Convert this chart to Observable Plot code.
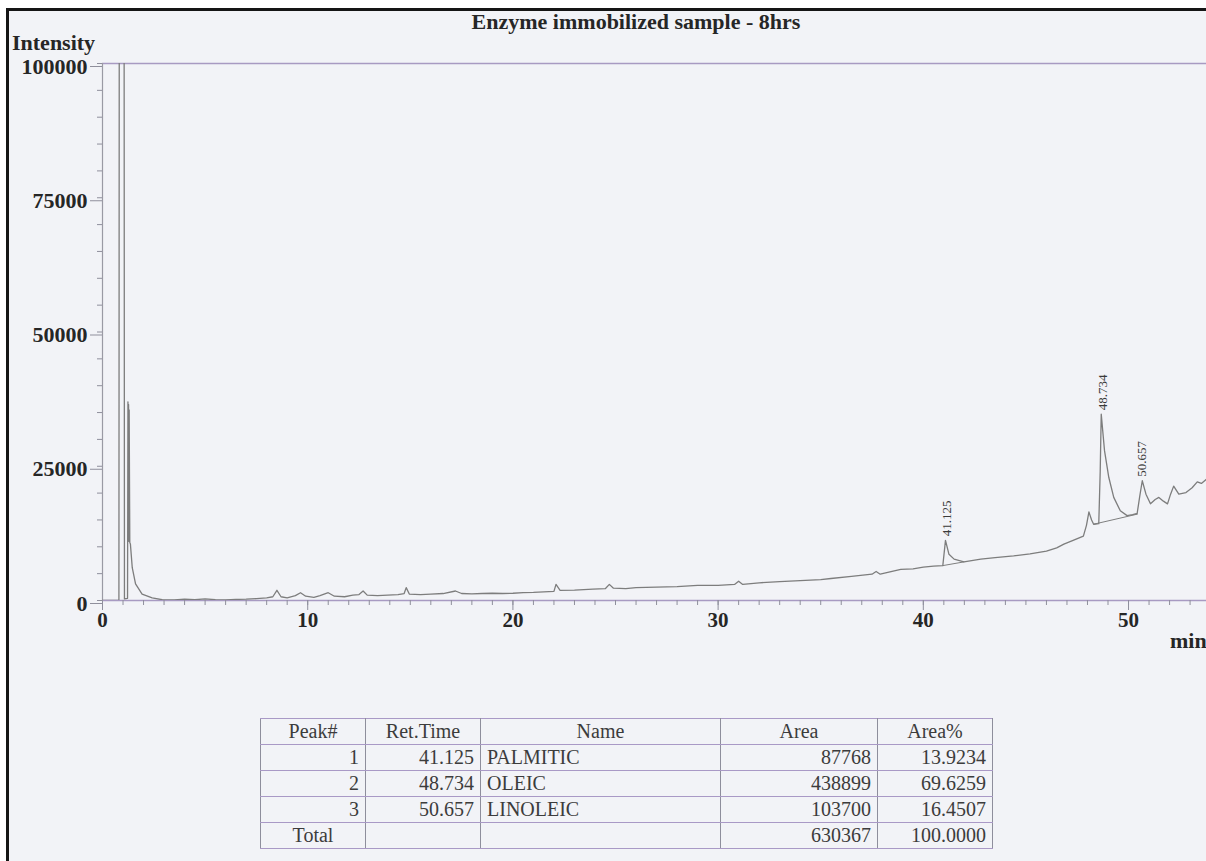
<!DOCTYPE html>
<html>
<head>
<meta charset="utf-8">
<script src="https://cdn.jsdelivr.net/npm/d3@7"></script>
<script src="https://cdn.jsdelivr.net/npm/@observablehq/plot@0.6"></script>
<style>
  html, body { margin: 0; padding: 0; }
  body { width: 1206px; height: 861px; position: relative; overflow: hidden; background: #ffffff; font-family: "Liberation Serif", "DejaVu Serif", serif; }
  #paper { position: absolute; left: 6px; top: 8px; right: -5px; bottom: -5px; border-left: 3px solid #151515; border-top: 3px solid #151515; background: #f2f3f7; }
  #chart { position: absolute; left: 0; top: 0; }
  .lbl { position: absolute; font-weight: bold; color: #262626; white-space: nowrap; }
  #title { left: 336px; width: 600px; top: 9px; text-align: center; font-size: 22px; }
  #ylab { left: 12px; top: 30px; font-size: 22px; }
  #xlab { left: 1170px; top: 628px; font-size: 22px; }
  table { position: absolute; left: 260px; top: 718px; border-collapse: collapse; font-family: "Liberation Serif", serif; font-size: 20px; color: #3c3c3c; }
  td { height: 25px; padding: 0 6px; line-height: 25px; border-left: 1px solid #8e8e9c; border-right: 1px solid #8e8e9c; border-top: 1px solid #a999c6; border-bottom: 1px solid #a999c6; }
  td.r { text-align: right; }
  td.c { text-align: center; }
  td.l { text-align: left; }
</style>
</head>
<body>
<div id="paper"></div>
<div id="chart"></div>
<div id="title" class="lbl">Enzyme immobilized sample - 8hrs</div>
<div id="ylab" class="lbl">Intensity</div>
<div id="xlab" class="lbl">min</div>
<table id="tbl"></table>
<script>
// ---- data ----
const traceTime = [
  0.0, 0.5, 0.80, 0.82, 1.05, 1.07, 1.22, 1.24, 1.26, 1.27, 1.29, 1.30, 1.33, 1.36, 1.45, 1.61, 1.93, 2.42, 2.91,
  3.5, 4.0, 4.5, 5.0, 5.5, 6.0, 6.5, 7.0, 7.5, 8.0, 8.3, 8.5, 8.7, 9.0, 9.4, 9.65, 9.9, 10.3, 10.6, 11.0, 11.3,
  11.8, 12.2, 12.5, 12.7, 12.9, 13.4, 13.9, 14.4, 14.7, 14.8, 14.95, 15.5, 16.0, 16.6, 17.2, 17.5, 18.0, 18.5,
  19.0, 19.5, 20.0, 20.5, 21.0, 21.5, 22.0, 22.1, 22.3, 23.0, 23.9, 24.5, 24.7, 24.9, 25.5, 26.0, 27.0, 28.0,
  29.0, 30.0, 30.8, 31.0, 31.2, 32.0, 33.0, 34.0, 35.0, 35.5, 36.5, 37.5, 37.7, 37.9, 38.9, 39.5, 40.0, 40.5,
  40.95, 41.08, 41.25, 41.5, 41.98, 42.8, 43.5, 44.4, 45.2, 46.0, 46.5, 46.85, 47.3, 47.8, 47.95, 48.07, 48.2,
  48.3, 48.55, 48.62, 48.67, 48.83, 49.04, 49.28, 49.6, 49.93, 50.2, 50.42, 50.55, 50.67, 50.85, 51.07, 51.3,
  51.48, 51.7, 51.9, 52.05, 52.2, 52.45, 52.8, 53.1, 53.35, 53.55, 53.8
];
const traceIntensity = [
  0, 0, 0, 130000, 130000, 300, 400, 37000, 11500, 36500, 11000, 35500, 10800, 10500, 6100, 3100, 1200, 470, 150,
  100, 250, 150, 300, 150, 100, 200, 250, 350, 500, 700, 1900, 700, 500, 900, 1450, 800, 600, 900, 1450, 800,
  700, 1000, 1100, 1770, 1000, 900, 1000, 1100, 1300, 2400, 1200, 1100, 1200, 1300, 1770, 1300, 1250, 1300,
  1350, 1300, 1350, 1450, 1500, 1600, 1700, 3000, 1900, 1950, 2100, 2200, 3000, 2300, 2200, 2400, 2500, 2600,
  2800, 2800, 3000, 3600, 3000, 3300, 3500, 3700, 3900, 4100, 4500, 4900, 5400, 4900, 5800, 5900, 6200, 6400,
  6500, 11200, 8600, 7700, 7200, 7700, 8000, 8300, 8700, 9200, 9800, 10500, 11200, 12000, 14000, 16500, 15000,
  14200, 14300, 24000, 34700, 27900, 22900, 19200, 16700, 15800, 16000, 16200, 19500, 22300, 19800, 18000, 18800,
  19200, 18500, 18000, 19800, 21300, 19800, 20100, 21000, 22100, 21800, 22600
];

// integration baselines drawn under the peaks
const baseX1 = [40.95, 48.3];
const baseY1 = [6500, 14200];
const baseX2 = [42.0, 50.45];
const baseY2 = [7200, 16100];

// peak annotations
const peakTimes = [41.125, 48.734, 50.657];
const peakHeights = [11200, 34700, 22300];

// axis ticks
const xTicks = [0, 10, 20, 30, 40, 50];
const yTicks = [0, 25000, 50000, 75000, 100000];
const xMinorTicks = d3.range(0, 54, 1);
const yMinorTicks = d3.range(0, 100001, 5000);

// results table
const tableHeader = ["Peak#", "Ret.Time", "Name", "Area", "Area%"];
const peakNo = ["1", "2", "3"];
const retTime = ["41.125", "48.734", "50.657"];
const compoundNames = ["PALMITIC", "OLEIC", "LINOLEIC"];
const areas = ["87768", "438899", "103700"];
const areaPct = ["13.9234", "69.6259", "16.4507"];
const totalArea = "630367";
const totalPct = "100.0000";

// ---- build ----
const trace = traceTime.map((t, i) => ({t, v: traceIntensity[i]}));
const bases = baseX1.map((x, i) => ({x1: x, y1: baseY1[i], x2: baseX2[i], y2: baseY2[i]}));
const peaks = peakTimes.map((t, i) => ({t, v: peakHeights[i], label: t.toFixed(3)}));

const axisColor = "#a89ac2";
const tickColor = "#8f8f9c";

const chart = Plot.plot({
  width: 1206,
  height: 700,
  marginTop: 63,
  marginBottom: 100,
  marginLeft: 102,
  marginRight: 0,
  style: {background: "transparent", fontFamily: "'Liberation Serif', serif", fontSize: "21px", fontWeight: "bold", color: "#262626"},
  x: {domain: [0, 53.8]},
  y: {domain: [0, 100000]},
  marks: [
    Plot.ruleY([yTicks[yTicks.length - 1]], {stroke: axisColor, strokeWidth: 1.5}),
    Plot.ruleY([yTicks[0]], {stroke: axisColor, strokeWidth: 1.5}),
    Plot.ruleX([xTicks[0]], {stroke: "#9a9aa4", strokeWidth: 1.2}),
    Plot.axisX({ticks: xMinorTicks, tickSize: 5, tickFormat: null, text: null, label: null, stroke: tickColor}),
    Plot.axisX({ticks: xTicks, tickSize: 10, tickPadding: 2, tickFormat: d => String(d), label: null, stroke: tickColor, fill: "#262626"}),
    Plot.axisY({ticks: yMinorTicks, tickSize: 5, text: null, label: null, stroke: tickColor}),
    Plot.axisY({ticks: yTicks, tickSize: 12, tickPadding: 3, dy: 3, fontSize: 22, tickFormat: d => String(d), label: null, stroke: tickColor, fill: "#262626"}),
    Plot.link(bases, {x1: "x1", y1: "y1", x2: "x2", y2: "y2", stroke: "#7f7f7f", strokeWidth: 1}),
    Plot.line(trace, {x: "t", y: "v", stroke: "#7d7d7d", strokeWidth: 1.3, clip: true}),
    Plot.text(peaks, {x: "t", y: "v", text: "label", rotate: -90, textAnchor: "start", dy: -4, fontSize: 13, fontWeight: "normal", fill: "#3a3a3a"})
  ]
});
document.getElementById("chart").appendChild(chart);

// table
const tbl = document.getElementById("tbl");
const widths = [105, 115, 240, 157, 115];
function addRow(cells, classes) {
  const tr = document.createElement("tr");
  cells.forEach((c, i) => {
    const td = document.createElement("td");
    td.textContent = c;
    td.className = classes[i];
    td.style.width = (widths[i] - 13) + "px";
    tr.appendChild(td);
  });
  tbl.appendChild(tr);
}
addRow(tableHeader, ["c", "c", "c", "c", "c"]);
peakNo.forEach((p, i) => addRow([p, retTime[i], compoundNames[i], areas[i], areaPct[i]], ["r", "r", "l", "r", "r"]));
addRow(["Total", "", "", totalArea, totalPct], ["c", "r", "l", "r", "r"]);
</script>
</body>
</html>
